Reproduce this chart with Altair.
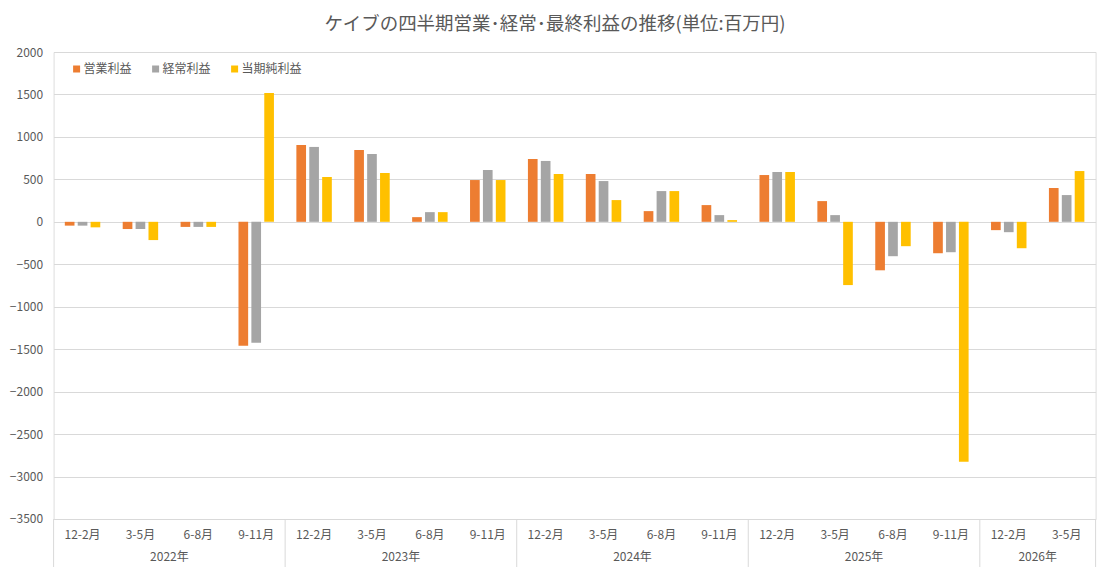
import altair as alt
import pandas as pd

# ---- data ----
years = ["2022年"] * 4 + ["2023年"] * 4 + ["2024年"] * 4 + ["2025年"] * 4 + ["2026年"] * 2
quarters = ["12-2月", "3-5月", "6-8月", "9-11月"] * 4 + ["12-2月", "3-5月"]
series_names = ["営業利益", "経常利益", "当期純利益"]
series_colors = ["#ED7D31", "#A5A5A5", "#FFC000"]
operating = [-45, -85, -60, -1460, 905, 846, 55, 492, 740, 563, 126, 197, 551, 244, -571, -370, -98, 398]
ordinary = [-45, -85, -60, -1425, 882, 799, 114, 610, 717, 480, 362, 79, 587, 79, -405, -358, -122, 315]
net_income = [-65, -215, -60, 1516, 528, 575, 114, 492, 563, 256, 362, 20, 587, -745, -287, -2826, -311, 598]
y_ticks = list(range(-3500, 2001, 500))
title_text = "ケイブの四半期営業･経常･最終利益の推移(単位:百万円)"

FONT = "Noto Sans CJK JP"
TXT = "#595959"
GRID = "#D9D9D9"
W, H = 1042, 467

keys = [f"{y} {q}" for y, q in zip(years, quarters)]

rows = []
for s, vals in zip(series_names, [operating, ordinary, net_income]):
    for k, y, q, v in zip(keys, years, quarters, vals):
        rows.append({"key": k, "year": y, "quarter": q, "series": s, "value": v})
df = pd.DataFrame(rows)

cats = pd.DataFrame({"key": keys, "year": years, "quarter": quarters})

# year label anchors: centre of each year group
year_list = list(dict.fromkeys(years))
anchor_rows = []
end_rows = []
for yr in year_list:
    ks = [k for k, y in zip(keys, years) if y == yr]
    n = len(ks)
    anchor_rows.append({"key": ks[n // 2 - 1], "year": yr})
    end_rows.append({"key": ks[-1], "year": yr})
anchors = pd.DataFrame(anchor_rows)
ends = pd.DataFrame(end_rows)
start = pd.DataFrame({"key": [keys[0]]})

x_scale = alt.Scale(paddingInner=0, paddingOuter=0)

bars = alt.Chart(df).mark_bar().encode(
    x=alt.X("key:N", sort=keys, scale=x_scale, axis=None),
    xOffset=alt.XOffset("series:N", sort=series_names,
                        scale=alt.Scale(paddingInner=0.25, paddingOuter=0.87)),
    y=alt.Y("value:Q",
            scale=alt.Scale(domain=[-3500, 2000], nice=False),
            axis=alt.Axis(values=y_ticks, format="d", title=None, domain=False, ticks=False,
                          labelPadding=11, labelFontSize=12, labelColor=TXT,
                          labelFont=FONT, grid=True, gridColor=GRID, gridWidth=1)),
    color=alt.Color("series:N", sort=series_names,
                    scale=alt.Scale(domain=series_names, range=series_colors),
                    legend=alt.Legend(title=None, orient="none", direction="horizontal",
                                      legendX=17, legendY=11, padding=0,
                                      symbolType="square", symbolSize=49,
                                      symbolStrokeWidth=0, labelOffset=1,
                                      columnPadding=17, labelFontSize=12,
                                      labelFont=FONT, labelColor=TXT)),
)

q_labels = alt.Chart(cats).mark_text(font=FONT, fontSize=12, color=TXT, baseline="middle").encode(
    x=alt.X("key:N", sort=keys, scale=x_scale, axis=None),
    y=alt.value(H + 16),
    text="quarter:N",
)

y_labels = alt.Chart(anchors).mark_text(font=FONT, fontSize=12, color=TXT, baseline="middle").encode(
    x=alt.X("key:N", sort=keys, scale=x_scale, axis=None, bandPosition=1),
    y=alt.value(H + 38),
    text="year:N",
)

end_rules = alt.Chart(ends).mark_rule(color=GRID, strokeWidth=1).encode(
    x=alt.X("key:N", sort=keys, scale=x_scale, axis=None, bandPosition=1),
    y=alt.value(H),
    y2=alt.value(H + 48),
)

start_rule = alt.Chart(start).mark_rule(color=GRID, strokeWidth=1).encode(
    x=alt.X("key:N", sort=keys, scale=x_scale, axis=None, bandPosition=0),
    y=alt.value(H),
    y2=alt.value(H + 48),
)

chart = alt.layer(bars, q_labels, y_labels, end_rules, start_rule).properties(
    width=W,
    height=H,
    title=alt.TitleParams(title_text, anchor="middle", dx=-19.6, offset=13,
                          font=FONT, fontSize=18.5, fontWeight="normal", color=TXT),
    autosize=alt.AutoSizeParams(type="none"),
    padding={"left": 45.6, "top": 44, "right": 8, "bottom": 48},
).configure_view(stroke=None).configure(background="white")

chart.save("out.html", embed_options={"renderer": "svg", "actions": False})
